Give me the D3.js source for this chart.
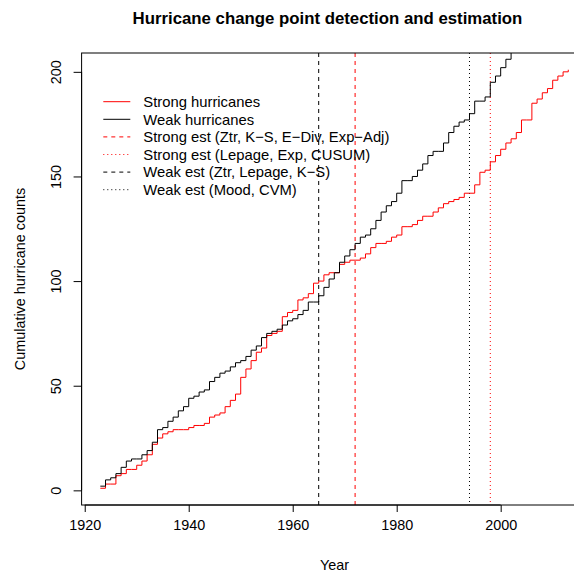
<!DOCTYPE html>
<html>
<head>
<meta charset="utf-8">
<script src="https://cdn.jsdelivr.net/npm/d3@7"></script>
<style>
  html, body { margin: 0; padding: 0; background: #fff; }
  svg { display: block; font-family: "Liberation Sans", Arial, Helvetica, sans-serif; }
</style>
</head>
<body>
<script>
// Cumulative hurricane counts by year, 1923–2013
const firstYear = 1923;
const lastYear = 2013;
const years = d3.range(firstYear, lastYear + 1);

const strongCounts = [
  1, 3, 3, 7, 8, 10, 10, 12, 14, 17,
  22, 25, 27, 28, 29, 29, 29, 30, 31, 31,
  32, 35, 36, 37, 40, 43, 46, 54, 58, 62,
  66, 68, 74, 75, 76, 83, 85, 86, 91, 92,
  94, 99, 100, 103, 104, 104, 108, 109, 110, 110,
  111, 113, 116, 118, 118, 119, 121, 122, 126, 126,
  127, 129, 131, 131, 133, 135, 137, 138, 139, 140,
  142, 142, 146, 152, 153, 157, 160, 163, 166, 168,
  171, 177, 177, 185, 187, 190, 192, 196, 198, 200,
  201
];

const weakCounts = [
  2, 5, 6, 8, 11, 14, 15, 15, 17, 19,
  23, 29, 30, 33, 35, 38, 40, 44, 45, 47,
  48, 52, 54, 56, 57, 59, 61, 62, 64, 67,
  69, 73, 75, 76, 77, 79, 81, 82, 84, 86,
  90, 90, 93, 97, 101, 104, 109, 112, 115, 118,
  121, 122, 125, 129, 133, 136, 138, 142, 148, 148,
  150, 153, 156, 160, 162, 162, 166, 171, 174, 176,
  177, 180, 186, 186, 188, 195, 198, 202, 206, 210,
  214, 219, 226, 229, 231, 234, 238, 240, 242, 244,
  245
];

// Estimated change points (year)
const changePoints = [
  { label: "Strong est (Ztr, K\u2212S, E\u2212Div, Exp\u2212Adj)", year: 1972, color: "#ff0000", dash: "4,4" },
  { label: "Strong est (Lepage, Exp, CUSUM)", year: 1998, color: "#ff0000", dash: "1,3" },
  { label: "Weak est (Ztr, Lepage, K\u2212S)", year: 1965, color: "#000000", dash: "4,4" },
  { label: "Weak est (Mood, CVM)", year: 1994, color: "#000000", dash: "1,3" }
];

const xTicks = [1920, 1940, 1960, 1980, 2000];
const yTicks = [0, 50, 100, 150, 200];

const W = 574, H = 573;
const fontSize = 14.4;

// Axis extents padded 4% beyond the data range
const xDomain = [firstYear - 0.04 * (lastYear - firstYear), lastYear + 0.04 * (lastYear - firstYear)];
const yMin = d3.min(strongCounts), yMax = d3.max(strongCounts);
const yDomain = [yMin - 0.04 * (yMax - yMin), yMax + 0.04 * (yMax - yMin)];

const pLeft = 81.6, pRight = 587, pTop = 53, pBottom = 505;
const x = d3.scaleLinear().domain(xDomain).range([pLeft, pRight]);
const y = d3.scaleLinear().domain(yDomain).range([pBottom, pTop]);

const svg = d3.select("body").append("svg")
  .attr("width", W).attr("height", H)
  .attr("viewBox", `0 0 ${W} ${H}`);

svg.append("rect").attr("width", W).attr("height", H).attr("fill", "#fff");

svg.append("defs").append("clipPath").attr("id", "plotClip")
  .append("rect").attr("x", pLeft).attr("y", pTop)
  .attr("width", pRight - pLeft).attr("height", pBottom - pTop);

const plot = svg.append("g").attr("clip-path", "url(#plotClip)");

const stepLine = d3.line()
  .x((d, i) => x(years[i]))
  .y(d => y(d))
  .curve(d3.curveStepAfter);

// Change-point verticals
plot.selectAll("line.cp").data(changePoints).enter().append("line")
  .attr("class", "cp")
  .attr("x1", d => x(d.year)).attr("x2", d => x(d.year))
  .attr("y1", pTop).attr("y2", pBottom)
  .attr("stroke", d => d.color)
  .attr("stroke-width", 1)
  .attr("stroke-dasharray", d => d.dash);

plot.append("path").datum(strongCounts)
  .attr("d", stepLine).attr("fill", "none")
  .attr("stroke", "#ff0000").attr("stroke-width", 1);

plot.append("path").datum(weakCounts)
  .attr("d", stepLine).attr("fill", "none")
  .attr("stroke", "#000000").attr("stroke-width", 1);

// Plot frame
svg.append("rect")
  .attr("x", pLeft).attr("y", pTop)
  .attr("width", pRight - pLeft).attr("height", pBottom - pTop)
  .attr("fill", "none").attr("stroke", "#000").attr("stroke-width", 1);

// X axis
const xAxis = d3.axisBottom(x).tickValues(xTicks).tickFormat(d3.format("d"))
  .tickSize(7).tickPadding(8);
const gx = svg.append("g").attr("transform", `translate(0,${pBottom})`).call(xAxis);
gx.select(".domain").attr("d", `M${x(xTicks[0])},0H${x(xTicks[xTicks.length - 1])}`);
gx.selectAll("text").attr("font-size", fontSize).attr("fill", "#000")
  .attr("font-family", "Liberation Sans, Arial, sans-serif");

// Y axis
const yAxis = d3.axisLeft(y).tickValues(yTicks).tickSize(8).tickPadding(0);
const gy = svg.append("g").attr("transform", `translate(${pLeft},0)`).call(yAxis);
gy.select(".domain").attr("d", `M0,${y(yTicks[0])}V${y(yTicks[yTicks.length - 1])}`);
gy.selectAll(".tick text")
  .attr("font-size", fontSize).attr("fill", "#000")
  .attr("font-family", "Liberation Sans, Arial, sans-serif")
  .attr("x", null).attr("dy", null)
  .attr("text-anchor", "middle")
  .attr("transform", "translate(-21,0) rotate(-90)");

// Titles
svg.append("text")
  .attr("x", 327.5).attr("y", 23.5)
  .attr("text-anchor", "middle")
  .attr("font-weight", "bold")
  .attr("font-size", 16.8)
  .text("Hurricane change point detection and estimation");

svg.append("text")
  .attr("x", 334.5).attr("y", 570)
  .attr("text-anchor", "middle")
  .attr("font-size", fontSize)
  .text("Year");

svg.append("text")
  .attr("transform", `translate(25,${(pTop + pBottom) / 2}) rotate(-90)`)
  .attr("text-anchor", "middle")
  .attr("font-size", fontSize)
  .text("Cumulative hurricane counts");

// Legend
const legendItems = [
  { label: "Strong hurricanes", color: "#ff0000", dash: null },
  { label: "Weak hurricanes", color: "#000000", dash: null },
  ...changePoints.map(c => ({ label: c.label, color: c.color, dash: c.dash }))
];
const legend = svg.append("g").attr("transform", "translate(103.3,101.7)");
const rows = legend.selectAll("g").data(legendItems).enter().append("g")
  .attr("transform", (d, i) => `translate(0,${i * 17.6})`);
rows.append("line")
  .attr("x1", 0).attr("x2", 27).attr("y1", 0).attr("y2", 0)
  .attr("stroke", d => d.color).attr("stroke-width", 1)
  .attr("stroke-dasharray", d => d.dash);
rows.append("text")
  .attr("x", 40).attr("y", 0).attr("dy", "0.36em")
  .attr("font-size", 14.8)
  .text(d => d.label);
</script>
</body>
</html>
